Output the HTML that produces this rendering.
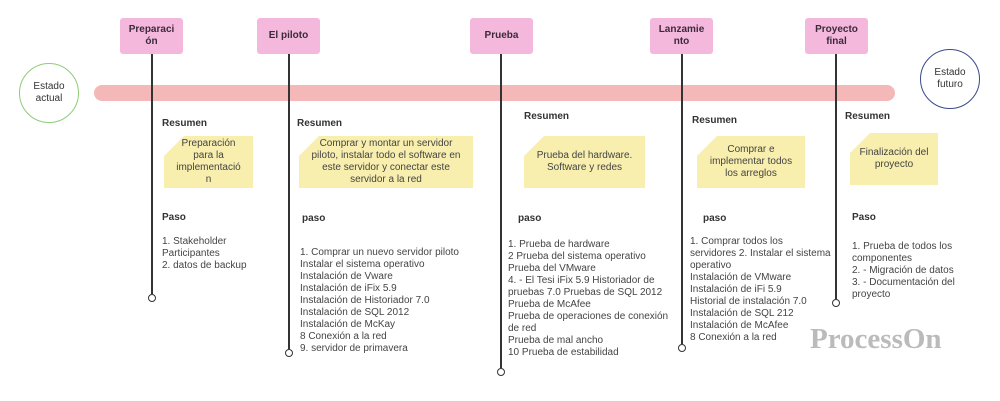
<!DOCTYPE html>
<html><head><meta charset="utf-8"><style>
body{margin:0;width:1000px;height:401px;background:#fff;position:relative;overflow:hidden;font-family:"Liberation Sans",sans-serif;color:#333}
.a{position:absolute}
.box{position:absolute;width:63px;height:36px;background:#f5b8dd;border-radius:3px;font-weight:bold;font-size:10px;color:#3a2a3a;display:flex;align-items:center;justify-content:center;text-align:center;line-height:12px;top:18px}
.ln{position:absolute;width:1.5px;background:#333;top:54px}
.dot{position:absolute;width:6px;height:6px;border:1.5px solid #333;border-radius:50%;background:#fff}
.h{position:absolute;font-size:10px;font-weight:bold;color:#333}
.t{position:absolute;font-size:10px;line-height:12px;color:#444}
.note{position:absolute;background:#f8eeae;clip-path:polygon(20px 0,100% 0,100% 100%,0 100%,0 20px);font-size:10px;line-height:12px;color:#444;display:flex;align-items:center;justify-content:center;text-align:center}
</style></head><body>
<div class="a" style="left:94px;top:85px;width:801px;height:16px;background:#f4b8b8;border-radius:8px"></div>
<div class="a" style="left:19px;top:63px;width:58px;height:58px;border:1.5px solid #8fcc78;border-radius:50%;display:flex;align-items:center;justify-content:center;text-align:center;font-size:10px;line-height:12px">Estado<br>actual</div>
<div class="a" style="left:920px;top:49px;width:58px;height:58px;border:1.5px solid #3a4a8a;border-radius:50%;display:flex;align-items:center;justify-content:center;text-align:center;font-size:10px;line-height:12px">Estado<br>futuro</div>

<div class="ln" style="left:151px;height:240px"></div><div class="dot" style="left:148px;top:294px"></div>
<div class="ln" style="left:288px;height:295px"></div><div class="dot" style="left:285px;top:349px"></div>
<div class="ln" style="left:500px;height:314px"></div><div class="dot" style="left:497px;top:368px"></div>
<div class="ln" style="left:681px;height:290px"></div><div class="dot" style="left:678px;top:344px"></div>
<div class="ln" style="left:835px;height:245px"></div><div class="dot" style="left:832px;top:299px"></div>

<div class="box" style="left:120px">Preparaci<br>ón</div>
<div class="box" style="left:257px">El piloto</div>
<div class="box" style="left:470px">Prueba</div>
<div class="box" style="left:650px">Lanzamie<br>nto</div>
<div class="box" style="left:805px">Proyecto<br>final</div>

<div class="h" style="left:162px;top:118px">Resumen</div>
<div class="h" style="left:297px;top:118px">Resumen</div>
<div class="h" style="left:524px;top:111px">Resumen</div>
<div class="h" style="left:692px;top:115px">Resumen</div>
<div class="h" style="left:845px;top:111px">Resumen</div>

<div class="note" style="left:164px;top:136px;width:89px;height:52px">Preparación<br>para la<br>implementació<br>n</div>
<div class="note" style="left:299px;top:136px;width:174px;height:52px">Comprar y montar un servidor<br>piloto, instalar todo el software en<br>este servidor y conectar este<br>servidor a la red</div>
<div class="note" style="left:524px;top:136px;width:121px;height:52px">Prueba del hardware.<br>Software y redes</div>
<div class="note" style="left:697px;top:136px;width:108px;height:52px">Comprar e<br>implementar todos<br>los arreglos</div>
<div class="note" style="left:850px;top:133px;width:88px;height:52px">Finalización del<br>proyecto</div>

<div class="h" style="left:162px;top:212px">Paso</div>
<div class="h" style="left:302px;top:213px">paso</div>
<div class="h" style="left:518px;top:213px">paso</div>
<div class="h" style="left:703px;top:213px">paso</div>
<div class="h" style="left:852px;top:212px">Paso</div>

<div class="t" style="left:162px;top:236px">1. Stakeholder<br>Participantes<br>2. datos de backup</div>
<div class="t" style="left:300px;top:247px">1. Comprar un nuevo servidor piloto<br>Instalar el sistema operativo<br>Instalación de Vware<br>Instalación de iFix 5.9<br>Instalación de Historiador 7.0<br>Instalación de SQL 2012<br>Instalación de McKay<br>8 Conexión a la red<br>9. servidor de primavera</div>
<div class="t" style="left:508px;top:239px">1. Prueba de hardware<br>2 Prueba del sistema operativo<br>Prueba del VMware<br>4. - El Tesi iFix 5.9 Historiador de<br>pruebas 7.0 Pruebas de SQL 2012<br>Prueba de McAfee<br>Prueba de operaciones de conexión<br>de red<br>Prueba de mal ancho<br>10 Prueba de estabilidad</div>
<div class="t" style="left:690px;top:236px">1. Comprar todos los<br>servidores 2. Instalar el sistema<br>operativo<br>Instalación de VMware<br>Instalación de iFi 5.9<br>Historial de instalación 7.0<br>Instalación de SQL 212<br>Instalación de McAfee<br>8 Conexión a la red</div>
<div class="t" style="left:852px;top:241px">1. Prueba de todos los<br>componentes<br>2. - Migración de datos<br>3. - Documentación del<br>proyecto</div>

<div class="a" style="left:810px;top:323px;font-family:'Liberation Serif',serif;font-weight:bold;font-size:29px;color:#bbb">ProcessOn</div>
</body></html>
